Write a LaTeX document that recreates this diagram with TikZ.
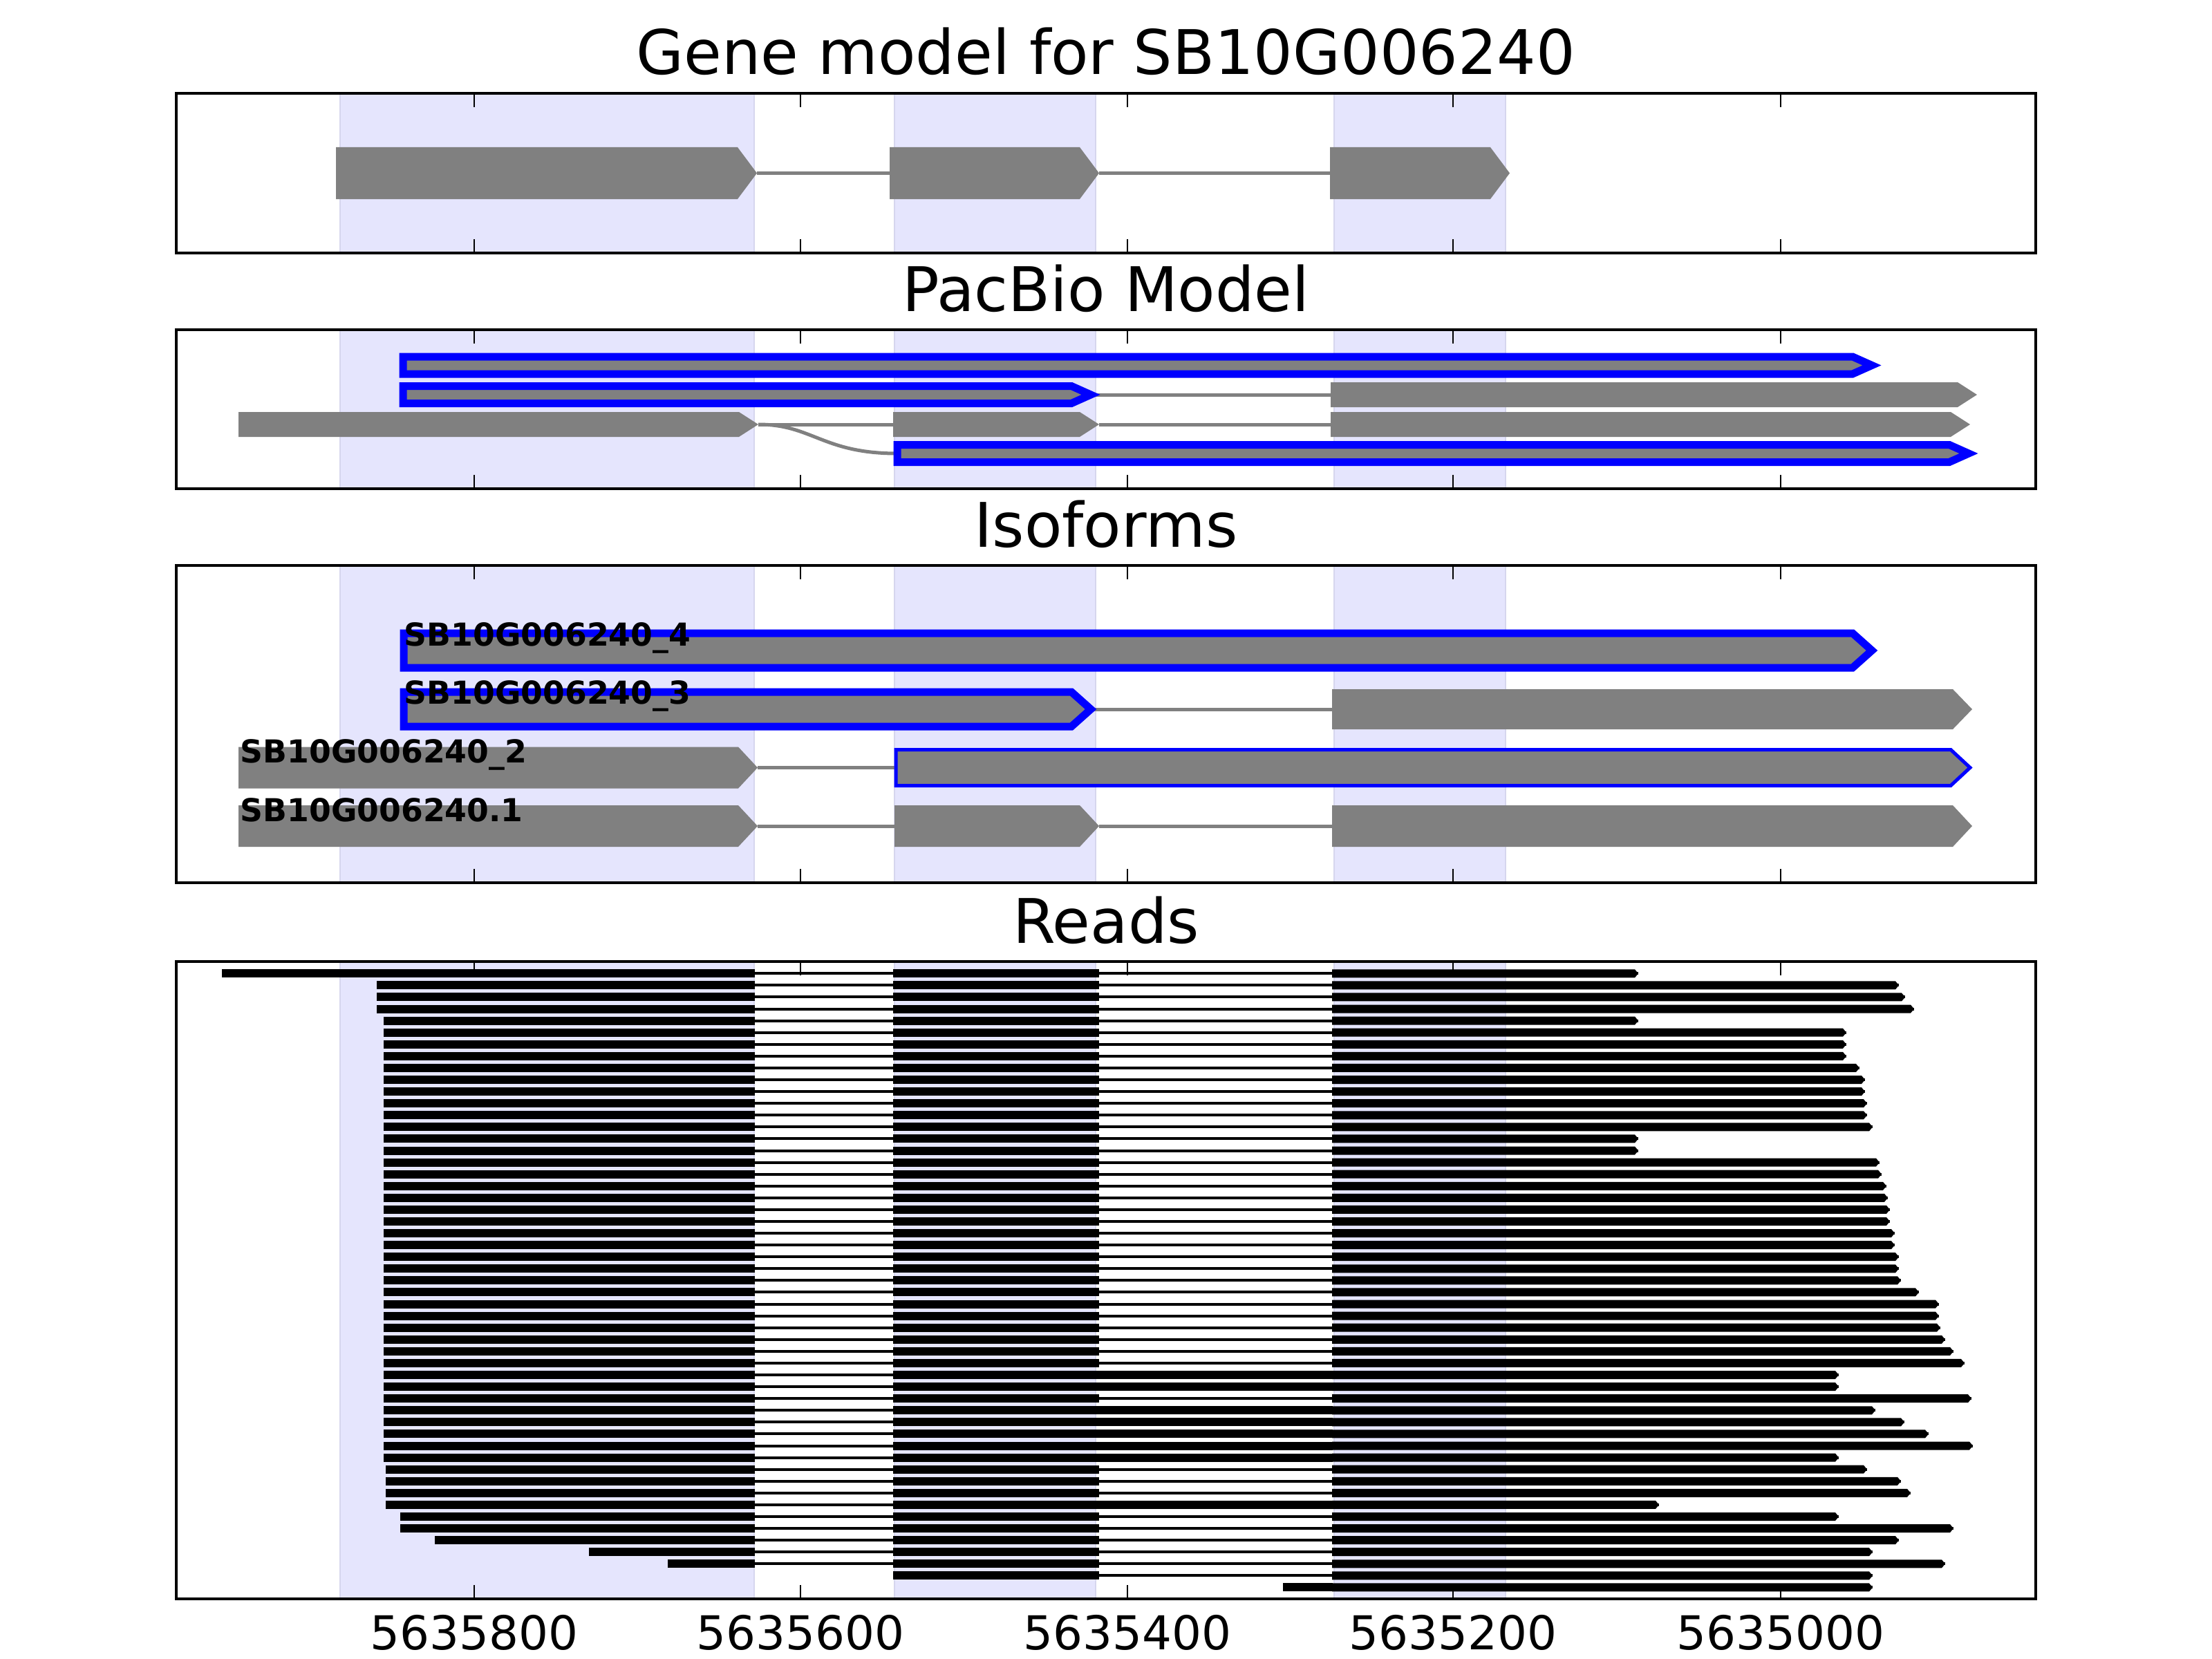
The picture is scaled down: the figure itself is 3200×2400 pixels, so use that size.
\documentclass[tikz,border=0pt]{standalone}
\usepackage{fontspec}
\setmainfont{DejaVu Sans}
\definecolor{genegray}{RGB}{128,128,128}
\definecolor{shade}{RGB}{229,229,253}
\definecolor{shadeedge}{RGB}{214,214,238}
\definecolor{isoblue}{RGB}{0,0,255}
\newcommand{\gexon}[4]{\fill[genegray] (#1,{#3-#4}) -- ({#2-28},{#3-#4}) -- (#2,#3) -- ({#2-28},{#3+#4}) -- (#1,{#3+#4}) -- cycle;}
\newcommand{\bexon}[5]{\path[#5] (#1,{#3-#4}) -- ({#2-28},{#3-#4}) -- (#2,#3) -- ({#2-28},{#3+#4}) -- (#1,{#3+#4}) -- cycle;}
\newcommand{\shades}[2]{%
  \path[shadebox] (492,#1) rectangle (1091,#2);
  \path[shadebox] (1294,#1) rectangle (1585,#2);
  \path[shadebox] (1930,#1) rectangle (2178,#2);}
\newcommand{\frameticks}[2]{%
  \foreach \tx in {686,1158,1631,2102,2576}{
    \draw[tickmark] (\tx,#1) -- (\tx,{#1+20});
    \draw[tickmark] (\tx,#2) -- (\tx,{#2-20});}
  \draw[panelframe] (255,#1) rectangle (2945,#2);}
\begin{document}
\begin{tikzpicture}[x=0.01cm,y=-0.01cm,
  panelframe/.style={draw=black,line width=0.045cm},
  tickmark/.style={draw=black,line width=0.025cm},
  shadebox/.style={fill=shade,draw=shadeedge,line width=0.02cm},
  intronline/.style={draw=genegray,line width=0.05cm},
  isothick/.style={draw=isoblue,fill=genegray,line width=0.11cm,miter limit=10},
  isothin/.style={draw=isoblue,fill=genegray,line width=0.05cm,miter limit=10},
  readline/.style={draw=black,line width=0.04cm},
  titletext/.style={font=\fontsize{25.3}{30}\selectfont,anchor=base,inner sep=0pt},
  ticktext/.style={font=\fontsize{19.2}{23}\selectfont,anchor=base,inner sep=0pt},
  isolabel/.style={font=\bfseries\fontsize{13}{15}\selectfont,anchor=base west,inner sep=0pt}]
\useasboundingbox[fill=white] (0,0) rectangle (3200,2400);

% ---------- titles
\node[titletext] (t1) at (1600,108) {Gene model for SB10G006240};
\node[titletext] (t2) at (1600,450) {PacBio Model};
\node[titletext] (t3) at (1600,791) {Isoforms};
\node[titletext] (t4) at (1600,1364) {Reads};

% ---------- panel 1 : gene model
\shades{135}{366}
\gexon{486}{1095}{250.5}{37.5}
\draw[intronline] (1095,250.5) -- (1287,250.5);
\gexon{1287}{1590}{250.5}{37.5}
\draw[intronline] (1590,250.5) -- (1924,250.5);
\gexon{1924}{2184}{250.5}{37.5}
\frameticks{135}{366}

% ---------- panel 2 : PacBio model
\shades{477}{707}
\draw[intronline] (1578,571) -- (1925,571);
\draw[intronline] (1097,614) -- (1292,614);
\draw[intronline] (1590,614) -- (1925,614);
\draw[intronline] (1097,614) .. controls (1175,614) and (1190,656) .. (1298,656);
\bexon{583}{2708}{528.5}{12.5}{isothick}
\bexon{583}{1578}{571}{12.5}{isothick}
\gexon{1925}{2860}{571}{18}
\gexon{345}{1097}{614}{18}
\gexon{1292}{1590}{614}{18}
\gexon{1925}{2850}{614}{18}
\bexon{1298}{2848}{656}{12.5}{isothick}
\frameticks{477}{707}

% ---------- panel 3 : isoforms
\shades{818}{1277}
\draw[intronline] (1578,1026) -- (1927,1026);
\draw[intronline] (1096,1110.5) -- (1296,1110.5);
\draw[intronline] (1096,1195) -- (1294,1195);
\draw[intronline] (1590,1195) -- (1927,1195);
\bexon{584}{2708}{941}{25}{isothick}
\bexon{584}{1578}{1026}{25}{isothick}
\gexon{1927}{2853}{1026}{29}
\gexon{345}{1096}{1110.5}{30}
\bexon{1296}{2850}{1110.5}{26}{isothin}
\gexon{345}{1096}{1195}{30}
\gexon{1294}{1590}{1195}{30}
\gexon{1927}{2853}{1195}{30}
\node[isolabel] (iso4) at (584,934) {SB10G006240\_4};
\node[isolabel] (iso3) at (584,1018) {SB10G006240\_3};
\node[isolabel] (iso2) at (347,1103) {SB10G006240\_2};
\node[isolabel] (iso1) at (347,1188) {SB10G006240.1};
\frameticks{818}{1277}

% ---------- panel 4 : reads
\shades{1391}{2313}
\foreach \i/\s/\e/\r in {
 0/321/2370/0, 1/545/2747/0, 2/545/2756/0, 3/545/2769/0, 4/555/2370/0,
 5/555/2671/0, 6/555/2671/0, 7/555/2671/0, 8/555/2690/0, 9/555/2698/0,
 10/555/2698/0, 11/555/2701/0, 12/555/2701/0, 13/555/2709/0, 14/555/2370/0,
 15/555/2370/0, 16/555/2719/0, 17/555/2722/0, 18/555/2729/0, 19/555/2731/0,
 20/555/2734/0, 21/555/2734/0, 22/555/2741/0, 23/555/2741/0, 24/555/2747/0,
 25/555/2747/0, 26/555/2750/0, 27/555/2776/0, 28/555/2805/0, 29/555/2805/0,
 30/555/2807/0, 31/555/2814/0, 32/555/2826/0, 33/555/2842/0, 34/555/2660/1,
 35/555/2660/1, 36/555/2852/0, 37/555/2713/1, 38/555/2755/1, 39/555/2790/1,
 40/555/2854/1, 41/555/2660/1, 42/558/2701/0, 43/558/2750/0, 44/558/2764/0,
 45/558/2400/1, 46/579/2660/0, 47/579/2826/0, 48/629/2747/0, 49/852/2709/0,
 50/966/2814/0, 51/1292/2709/0, 52/1856/2709/1}{
  \pgfmathsetmacro{\yy}{1408.3+17.08*\i}
  \pgfmathsetmacro{\ya}{\yy-6}
  \pgfmathsetmacro{\yb}{\yy+6}
  \draw[readline] (\s,\yy) -- (\e,\yy);
  \ifnum\s<1092 \fill (\s,\ya) rectangle (1092,\yb); \fi
  \ifnum\s<1590 \pgfmathsetmacro{\xa}{max(\s,1292)}\fill (\xa,\ya) rectangle (1590,\yb); \fi
  \ifnum\r=1 \pgfmathsetmacro{\xb}{max(\s,1590)}\fill (\xb,\ya) rectangle (1927.5,\yb); \fi
  \pgfmathsetmacro{\xc}{max(\s,1927)}
  \fill (\xc,\ya) -- ({\e-5},\ya) -- (\e,\yy) -- ({\e-5},\yb) -- (\xc,\yb) -- cycle;
}
\frameticks{1391}{2313}

% ---------- x tick labels
\node[ticktext] (x1) at (686,2386) {5635800};
\node[ticktext] (x2) at (1158,2386) {5635600};
\node[ticktext] (x3) at (1631,2386) {5635400};
\node[ticktext] (x4) at (2102,2386) {5635200};
\node[ticktext] (x5) at (2576,2386) {5635000};
\end{tikzpicture}
\end{document}
